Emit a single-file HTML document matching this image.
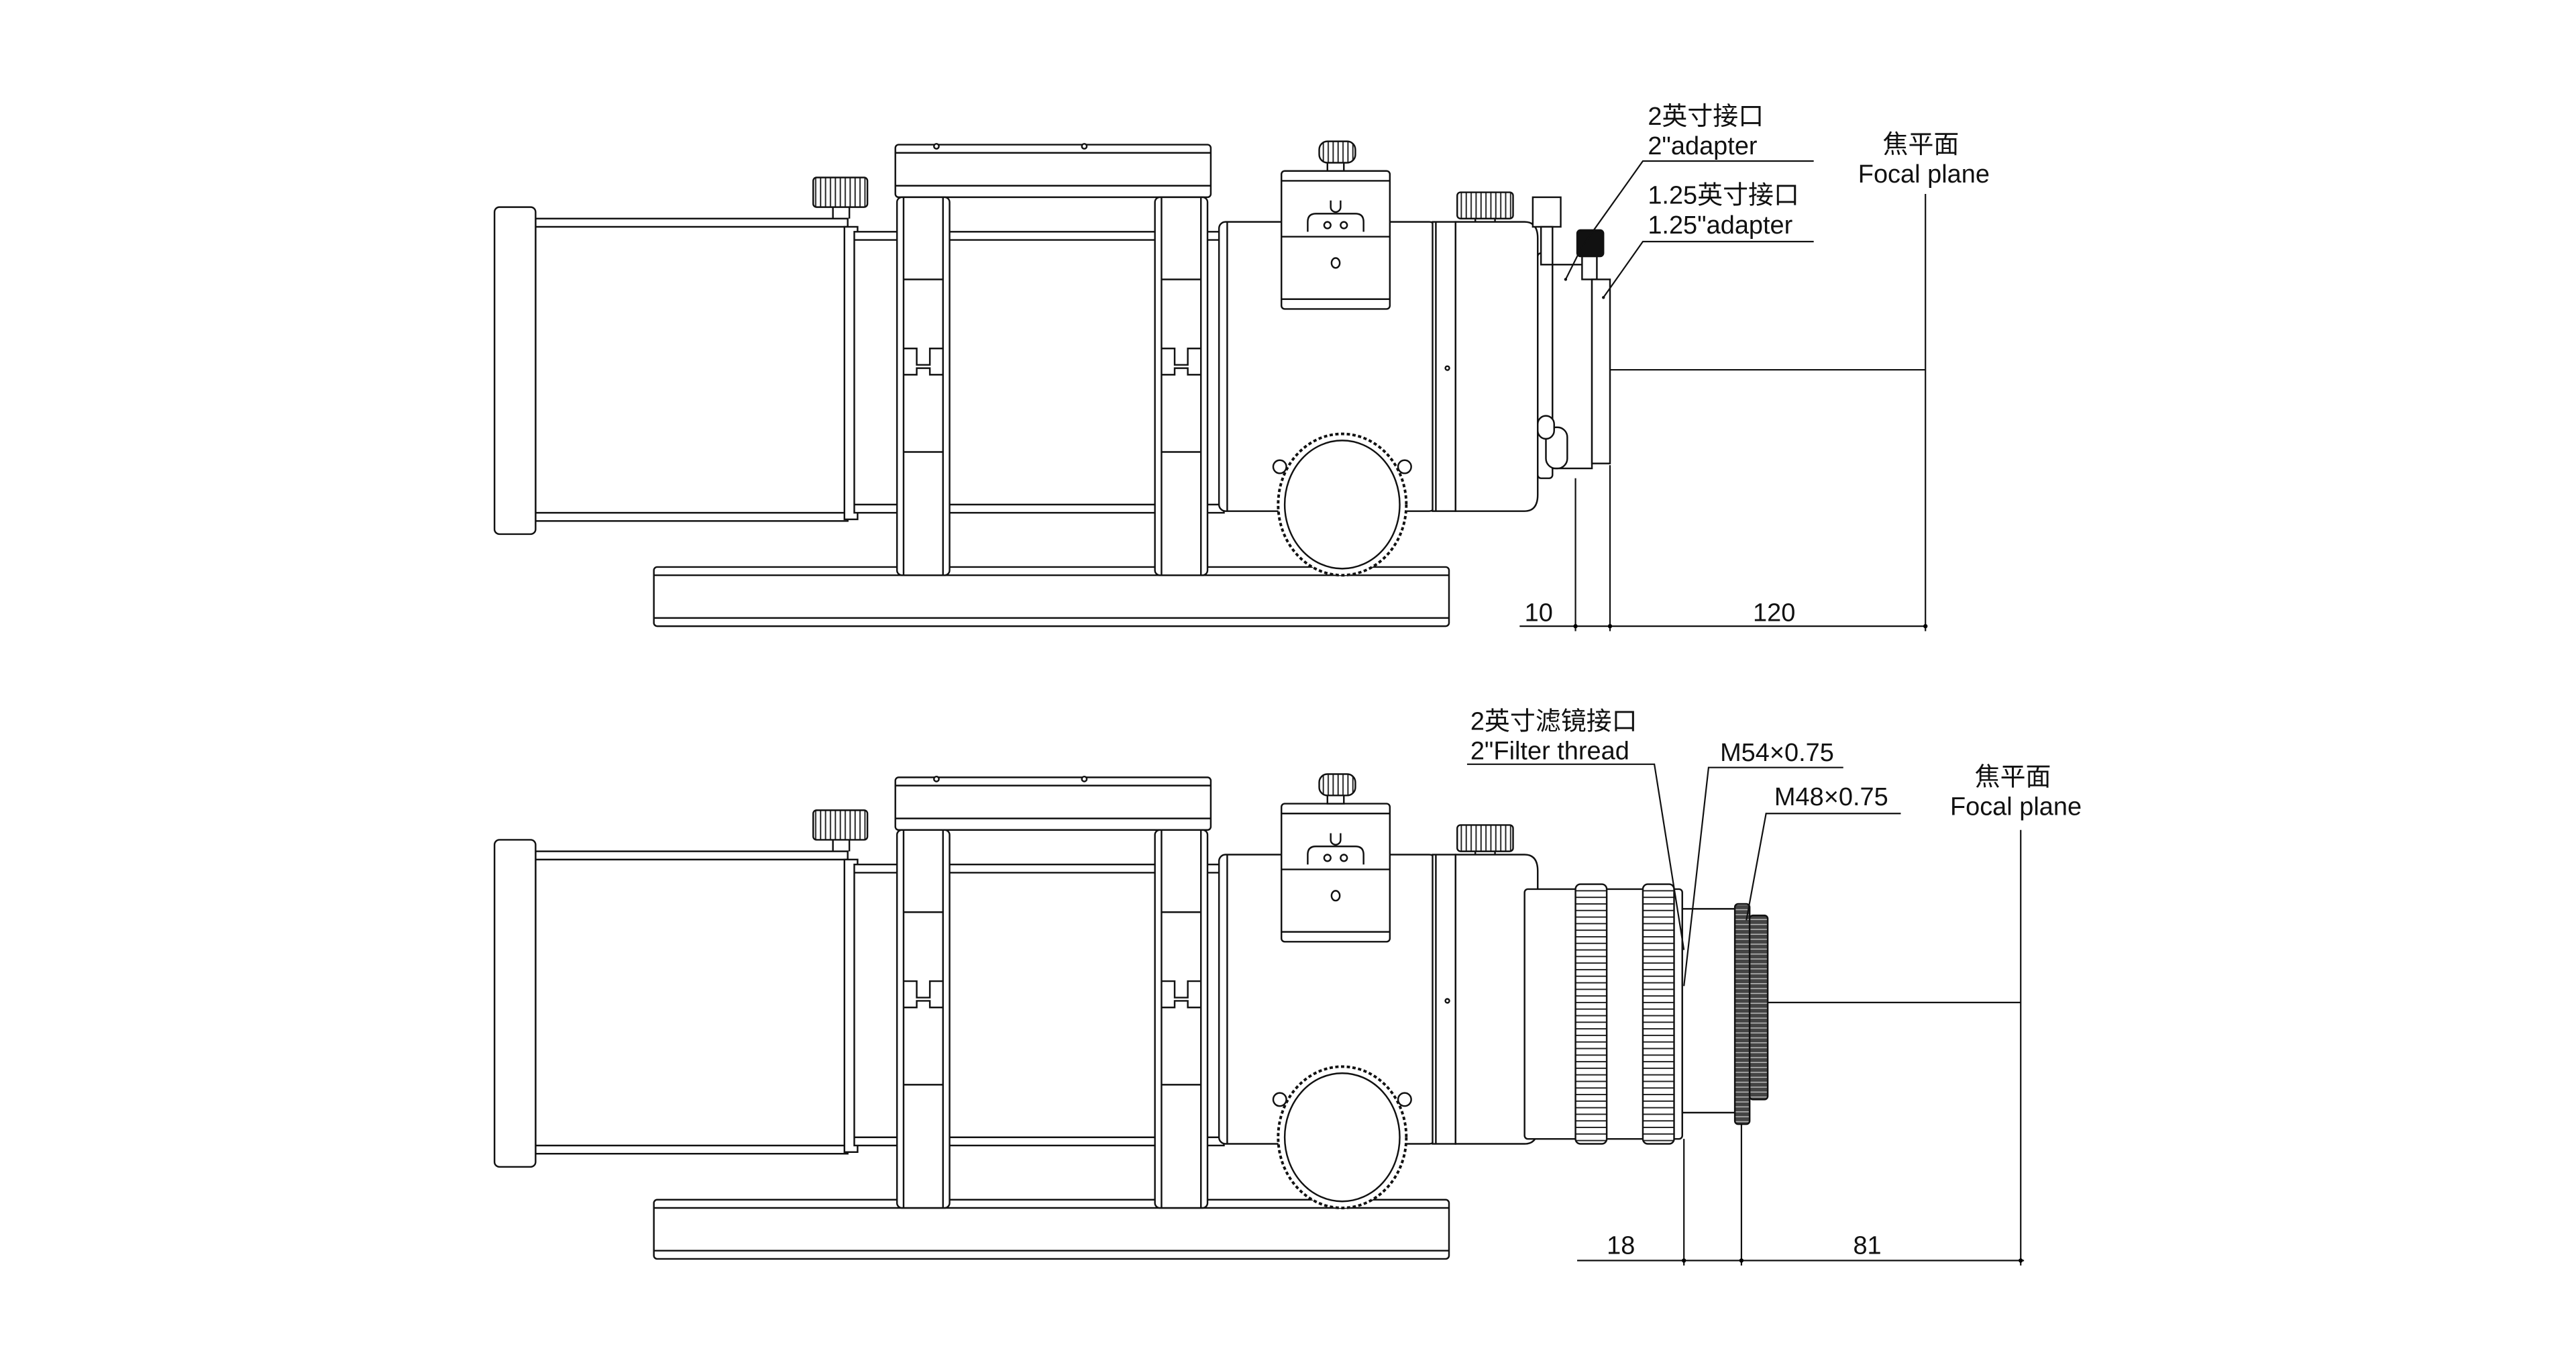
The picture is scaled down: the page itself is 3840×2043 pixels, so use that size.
<!DOCTYPE html>
<html><head><meta charset="utf-8"><style>
html,body{margin:0;padding:0;background:#fff}
svg{display:block}
text{font-family:"Liberation Sans","Noto Sans CJK SC",sans-serif;font-size:15.5px;fill:#111}
</style></head><body>
<svg width="3840" height="2043" viewBox="0 0 1568 834.2" xmlns="http://www.w3.org/2000/svg">
<defs>
<pattern id="kn" width="3" height="4" patternUnits="userSpaceOnUse"><rect width="3" height="4" fill="#fff"/><line x1="0" y1="2" x2="3" y2="2" stroke="#222" stroke-width="0.8"/></pattern>
<pattern id="kv" width="3" height="4" patternUnits="userSpaceOnUse"><rect width="3" height="4" fill="#fff"/><line x1="1.5" y1="0" x2="1.5" y2="4" stroke="#222" stroke-width="0.8"/></pattern>
<pattern id="kd" width="3" height="3" patternUnits="userSpaceOnUse"><rect width="3" height="3" fill="#444"/><line x1="0" y1="1.5" x2="3" y2="1.5" stroke="#bbb" stroke-width="0.6"/></pattern>
<g id="body" fill="#fff" stroke="#111" stroke-width="1">
 <!-- dovetail -->
 <rect x="398" y="345" width="484" height="36" rx="2"/>
 <line x1="398" y1="350" x2="882" y2="350"/><line x1="398" y1="376" x2="882" y2="376"/>
 <!-- dew cap and tube -->
 <rect x="326" y="133" width="190" height="184"/>
 <line x1="326" y1="138" x2="516" y2="138"/><line x1="326" y1="312" x2="516" y2="312"/>
 <rect x="301" y="126" width="25" height="199" rx="3"/>
 <rect x="514" y="138" width="8" height="178"/>
 <rect x="520" y="141" width="225" height="171"/>
 <line x1="520" y1="146" x2="745" y2="146"/><line x1="520" y1="307" x2="745" y2="307"/>
 <!-- top knob -->
 <line x1="507" y1="126" x2="507" y2="133"/><line x1="517" y1="126" x2="517" y2="133"/>
 <rect x="495" y="108" width="33" height="18" rx="2" fill="url(#kv)"/>
 <!-- top plate -->
 <rect x="545" y="88" width="192" height="32" rx="2"/>
 <line x1="545" y1="93" x2="737" y2="93"/><line x1="545" y1="113" x2="737" y2="113"/>
 <circle cx="570" cy="89" r="1.5"/><circle cx="660" cy="89" r="1.5"/>
 <!-- clamp rings -->
 <g>
 <rect x="546" y="120" width="32" height="230" rx="3"/>
 <line x1="550" y1="120" x2="550" y2="350"/><line x1="574" y1="120" x2="574" y2="350"/>
 <line x1="550" y1="170" x2="574" y2="170"/><line x1="550" y1="275" x2="574" y2="275"/>
 <path d="M550 212 h8 v10 h8 v-10 h8 M550 228 h8 v-4 h8 v4 h8"/>
 </g>
 <g>
 <rect x="703" y="120" width="32" height="230" rx="3"/>
 <line x1="707" y1="120" x2="707" y2="350"/><line x1="731" y1="120" x2="731" y2="350"/>
 <line x1="707" y1="170" x2="731" y2="170"/><line x1="707" y1="275" x2="731" y2="275"/>
 <path d="M707 212 h8 v10 h8 v-10 h8 M707 228 h8 v-4 h8 v4 h8"/>
 </g>
 <!-- focuser body -->
 <rect x="742" y="135" width="132" height="176" rx="4"/>
 <line x1="747" y1="135" x2="747" y2="311"/>
 <!-- focuser bracket -->
 <rect x="780" y="104" width="66" height="84" rx="2"/>
 <line x1="780" y1="110" x2="846" y2="110"/><line x1="780" y1="182" x2="846" y2="182"/>
 <line x1="780" y1="144" x2="846" y2="144"/>
 <path d="M796 141 v-6 q0-5 5-5 h24 q5 0 5 5 v6"/>
 <circle cx="808" cy="137" r="2"/><circle cx="818" cy="137" r="2"/>
 <ellipse cx="813" cy="160" rx="2.5" ry="3"/>
 <path d="M810 122 v4 a3 3 0 0 0 6 0 v-4"/>
 <rect x="808" y="97" width="10" height="7"/>
 <rect x="803" y="86" width="22" height="13" rx="5" fill="url(#kv)"/>
 <!-- focus knob -->
 <circle cx="779" cy="284" r="4"/><circle cx="855" cy="284" r="4"/>
 <ellipse cx="817" cy="307" rx="39" ry="43" stroke-dasharray="2 1.5" stroke-width="1.6"/>
 <ellipse cx="817" cy="307" rx="35" ry="39"/>
 <!-- rear focuser rings -->
 <rect x="872" y="135" width="14" height="176"/>
 <line x1="874" y1="135" x2="874" y2="311"/>
 <path d="M886 135 h42 q8 0 8 10 v156 q0 10 -8 10 h-42 z"/>
 <circle cx="881" cy="224" r="1.2"/>
 <line x1="898" y1="133" x2="898" y2="135"/><line x1="910" y1="133" x2="910" y2="135"/>
 <rect x="887" y="117" width="34" height="16" rx="2" fill="url(#kv)"/>
</g>
</defs>

<!-- TOP -->
<use href="#body"/>
<g fill="#fff" stroke="#111" stroke-width="1">
 <rect x="936" y="154" width="9" height="137" rx="2"/>
 <rect x="945" y="161" width="24" height="124"/>
 <rect x="941" y="260" width="13" height="25" rx="6"/>
 <rect x="936" y="253" width="10" height="14" rx="5"/>
 <rect x="933" y="120" width="17" height="18"/>
 <rect x="938" y="138" width="7" height="23"/>
 <rect x="960" y="140" width="16" height="16" rx="2" fill="#111"/>
 <rect x="963" y="156" width="9" height="14"/>
 <rect x="969" y="170" width="11" height="112"/>
</g>
<circle cx="953" cy="170" r="0.9" fill="#111"/><circle cx="976" cy="181" r="0.9" fill="#111"/>
<g stroke="#111" stroke-width="0.9" fill="none">
 <line x1="980" y1="225" x2="1172" y2="225"/>
 <line x1="1172" y1="118" x2="1172" y2="384"/>
 <line x1="959" y1="291" x2="959" y2="384"/>
 <line x1="980" y1="283" x2="980" y2="384"/>
 <line x1="925" y1="381" x2="1172" y2="381"/>
 <polyline points="953,170 963,150 1000,98 1104,98"/>
 <polyline points="976,181 1000,147 1104,147"/>
</g>
<circle cx="959" cy="381" r="1.3"/><circle cx="980" cy="381" r="1.3"/><circle cx="1172" cy="381" r="1.3"/>
<text x="928" y="378">10</text><text x="1067" y="378">120</text>
<text x="1003" y="76">2英寸接口</text>
<text x="1003" y="94">2"adapter</text>
<text x="1003" y="124">1.25英寸接口</text>
<text x="1003" y="142">1.25"adapter</text>
<text x="1146" y="93">焦平面</text>
<text x="1131" y="111">Focal plane</text>

<!-- BOTTOM -->
<use href="#body" y="385"/>
<g fill="#fff" stroke="#111" stroke-width="1">
 <rect x="928" y="541" width="96" height="152" rx="2"/>
 <rect x="959" y="538" width="19" height="158" rx="3" fill="url(#kn)"/>
 <rect x="1000" y="538" width="19" height="158" rx="3" fill="url(#kn)"/>
 <rect x="1024" y="553" width="33" height="124"/>
 <rect x="1056" y="550" width="9" height="134" rx="2" fill="url(#kd)"/>
 <rect x="1065" y="557" width="11" height="112" rx="2" fill="url(#kd)"/>
</g>
<g stroke="#111" stroke-width="0.9" fill="none">
 <line x1="1076" y1="610" x2="1230" y2="610"/>
 <line x1="1230" y1="505" x2="1230" y2="770"/>
 <line x1="1025" y1="693" x2="1025" y2="770"/>
 <line x1="1060" y1="684" x2="1060" y2="770"/>
 <line x1="960" y1="767" x2="1232" y2="767"/>
 <polyline points="893,465 1007,465 1025,578"/>
 <polyline points="1025,600 1040,467 1122,467"/>
 <polyline points="1063,560 1075,495 1157,495"/>
</g>
<circle cx="1025" cy="767" r="1.3"/><circle cx="1060" cy="767" r="1.3"/><circle cx="1230" cy="767" r="1.3"/>
<text x="978" y="763">18</text><text x="1128" y="763">81</text>
<text x="895" y="444">2英寸滤镜接口</text>
<text x="895" y="462">2"Filter thread</text>
<text x="1047" y="463">M54×0.75</text>
<text x="1080" y="490">M48×0.75</text>
<text x="1202" y="478">焦平面</text>
<text x="1187" y="496">Focal plane</text>
</svg>
</body></html>
